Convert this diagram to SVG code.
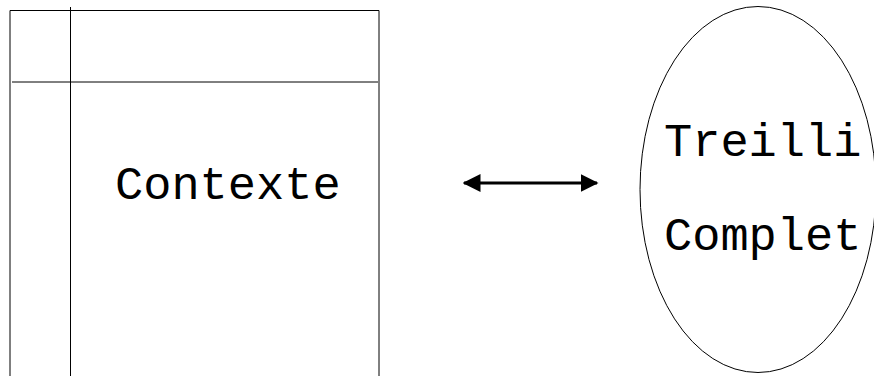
<svg xmlns="http://www.w3.org/2000/svg" width="874" height="376" viewBox="0 0 874 376">
<style>
.ln{stroke:#000;stroke-width:1;fill:none}
.lbl{font-family:"Liberation Mono","Courier New",monospace;font-size:47px;fill:#000}
</style>
<defs>
<marker id="ah" markerWidth="6" markerHeight="6" refX="5.5" refY="3" orient="auto-start-reverse" markerUnits="strokeWidth">
<path d="M0,0 L6,3 L0,6 z" fill="#000"/>
</marker>
</defs>
<rect width="874" height="376" fill="#fff"/>
<g id="contexte">
<path class="ln" d="M10,380 V10.5 H379 V380"/>
<line class="ln" x1="70.5" y1="7" x2="70.5" y2="380"/>
<line class="ln" x1="12" y1="82" x2="378" y2="82"/>
<text class="lbl" x="115" y="199">Contexte</text>
</g>
<g id="connectors">
<line x1="464" y1="183" x2="597" y2="183" stroke="#000" stroke-width="3" marker-start="url(#ah)" marker-end="url(#ah)"/>
</g>
<g id="treillis">
<ellipse class="ln" cx="758" cy="189.5" rx="118" ry="183"/>
<text class="lbl" x="664" y="156">Treilli</text>
<text class="lbl" x="664" y="250">Complet</text>
</g>
</svg>
